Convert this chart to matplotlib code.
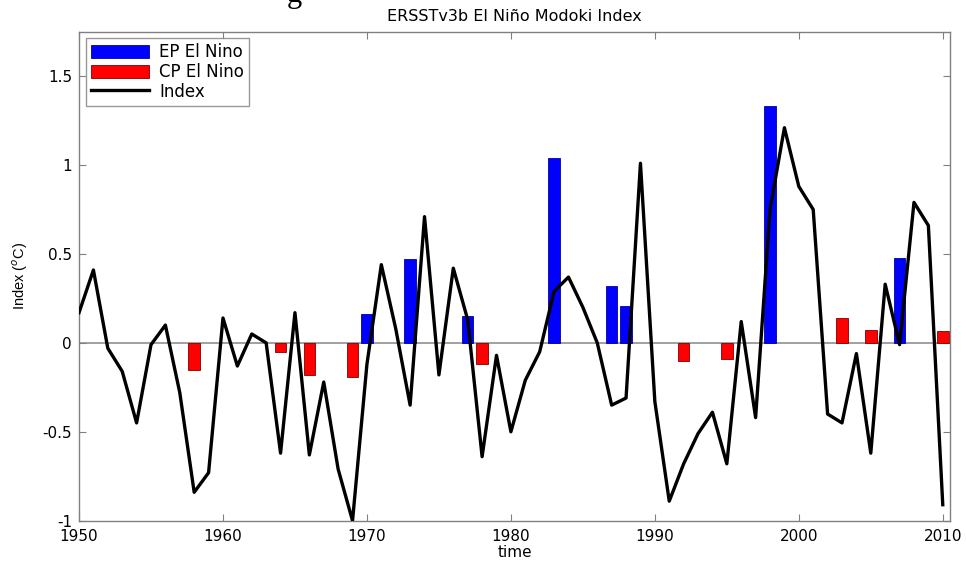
import matplotlib.pyplot as plt
import numpy as np

years = list(range(1950, 2011))
index = [0.17, 0.41, -0.03, -0.16, -0.45, -0.01, 0.10, -0.28, -0.84, -0.73,
         0.14, -0.13, 0.05, 0.00, -0.62, 0.17, -0.63, -0.22, -0.71, -1.00,
         -0.12, 0.44, 0.08, -0.35, 0.71, -0.18, 0.42, 0.13, -0.64, -0.07,
         -0.50, -0.21, -0.05, 0.29, 0.37, 0.20, 0.00, -0.35, -0.31, 1.01,
         -0.33, -0.89, -0.68, -0.51, -0.39, -0.68, 0.12, -0.42, 0.75, 1.21,
         0.88, 0.75, -0.40, -0.45, -0.06, -0.62, 0.33, -0.01, 0.79, 0.66,
         -0.91]

ep_years = [1970, 1973, 1977, 1983, 1987, 1988, 1998, 2007]
ep_values = [0.16, 0.47, 0.15, 1.04, 0.32, 0.21, 1.33, 0.48]

cp_years = [1958, 1964, 1966, 1969, 1978, 1992, 1995, 2003, 2005, 2010]
cp_values = [-0.15, -0.05, -0.18, -0.19, -0.12, -0.10, -0.09, 0.14, 0.075, 0.065]

xticks = [1950, 1960, 1970, 1980, 1990, 2000, 2010]
yticks = [-1, -0.5, 0, 0.5, 1, 1.5]
ytick_labels = ['-1', '-0.5', '0', '0.5', '1', '1.5']

plt.rcParams['font.family'] = ['DejaVu Sans']
grey = '#808080'

fig = plt.figure(figsize=(9.66, 5.63), dpi=100)
ax = fig.add_axes([0.0818, 0.0751, 0.9016, 0.8686])

ax.axhline(0, color='#909090', linewidth=1.2, zorder=1)
h_ep = ax.bar(ep_years, ep_values, width=0.8, color='#0000ff', edgecolor='#0000a0',
              linewidth=0.6, zorder=2)
h_cp = ax.bar(cp_years, cp_values, width=0.8, color='#ff0000', edgecolor='#800000',
              linewidth=0.6, zorder=2)
h_ix, = ax.plot(years, index, color='black', linewidth=2.4, zorder=3)

ax.set_xlim(1950, 2010.5)
ax.set_ylim(-1, 1.75)
ax.set_xticks(xticks)
ax.set_yticks(yticks)
ax.set_yticklabels(ytick_labels)
ax.tick_params(direction='in', top=True, right=True, length=5, width=0.8,
               color=grey, labelsize=11, labelcolor='black')
ax.tick_params(axis='x', pad=6)
ax.tick_params(axis='y', pad=5)
for s in ax.spines.values():
    s.set_color(grey)
    s.set_linewidth(1.0)

ax.set_title('ERSSTv3b El Niño Modoki Index', fontsize=11.5, pad=8)
ax.set_xlabel('time', fontsize=11, labelpad=1)
ax.set_ylabel('Index ($^o$C)', fontsize=10.5, labelpad=9,
              family='Liberation Sans')

leg = ax.legend([h_ep, h_cp, h_ix], ['EP El Nino', 'CP El Nino', 'Index'],
                loc='upper left', fontsize=12, frameon=True, fancybox=False,
                edgecolor=grey, handlelength=3.5, handleheight=0.85,
                labelspacing=0.1, borderpad=0.3, handletextpad=0.6,
                borderaxespad=0.4)
leg.get_frame().set_linewidth(1.0)

# cropped caption fragment at the very top
fig.text(0.305, 0.996, 'g', family='Liberation Serif', fontsize=22,
         ha='center', va='baseline')

fig.savefig('out.png', dpi=100)
